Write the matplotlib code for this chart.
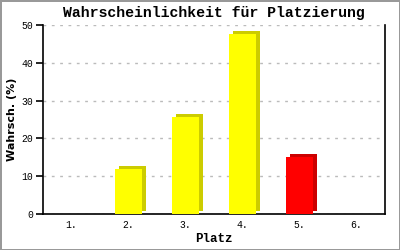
import matplotlib.pyplot as plt
import matplotlib.transforms as mtransforms

places = ["1.", "2.", "3.", "4.", "5.", "6."]
probs = [0, 11.9, 25.7, 47.6, 15.1, 0]
face_colors = ["#ffff00", "#ffff00", "#ffff00", "#ffff00", "#ff0000", "#ffff00"]
side_colors = ["#cccc00", "#cccc00", "#cccc00", "#cccc00", "#cc0000", "#cccc00"]

fig = plt.figure(figsize=(4, 2.5), dpi=100)
fig.patch.set_edgecolor("#999999")
fig.patch.set_linewidth(2)
ax = fig.add_axes([43/400, 36/250, 342/400, 189/250])

x = list(range(len(places)))
# 3D look: darker copy shifted a few pixels up/right, then the front face on top
shift = ax.transData + mtransforms.ScaledTranslation(4/100, 3/100, fig.dpi_scale_trans)
for i in x:
    if probs[i] > 0:
        ax.bar(i, probs[i], width=0.47, color=side_colors[i], transform=shift, zorder=2)
ax.bar(x, probs, width=0.47, color=face_colors, zorder=3)

ax.set_xlim(-0.5, 5.5)
ax.set_ylim(0, 50)
ax.set_yticks([0, 10, 20, 30, 40, 50])
ax.set_xticks(x)
ax.set_xticklabels(places)
ax.yaxis.grid(True, linestyle=(0, (2, 4)), color="#bbbbbb", linewidth=1, zorder=0)
ax.set_axisbelow(True)
ax.spines["top"].set_visible(False)
for s in ["left", "right", "bottom"]:
    ax.spines[s].set_linewidth(1.2)
ax.tick_params(axis="x", length=0, pad=4, labelsize=7)
ax.tick_params(axis="y", length=5, width=1.2, pad=2, labelsize=7)
for lab in ax.get_xticklabels() + ax.get_yticklabels():
    lab.set_family("Liberation Mono")

ax.set_title("Wahrscheinlichkeit für Platzierung", family="Liberation Mono",
             fontsize=10.7, fontweight="bold", pad=6)
ax.set_xlabel("Platz", family="Liberation Mono", fontsize=9, fontweight="bold")
ax.set_ylabel("Wahrsch. (%)", family="DejaVu Sans", fontsize=8, fontweight="bold")
ax.xaxis.set_label_coords(0.5, -0.132)
ax.yaxis.set_label_coords(-0.09, 0.5)
ax.xaxis.label.set_va("center")
ax.yaxis.label.set_va("center")

fig.savefig("out.png", dpi=100, edgecolor=fig.get_edgecolor())
